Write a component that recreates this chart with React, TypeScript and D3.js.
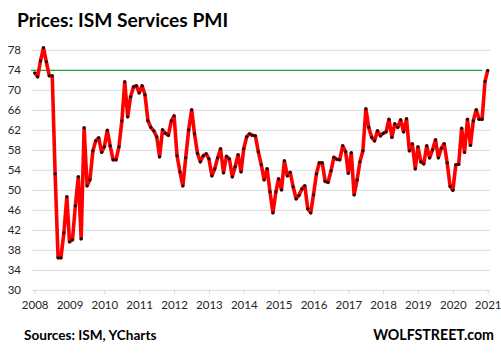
import * as d3 from 'd3';
import React, { useRef, useEffect } from 'react';

// monthly prices index, Mar 2008 .. Mar 2021
const startYear = 2008;
const startMonth = 2; // March (0-based)
const pricesIndex = [
  73.5, 72.7, 75.9, 78.5, 75.7, 72.9, 72.9, 53.3, 36.5, 36.5, 41.5, 48.7,
  39.7, 40.1, 46.9, 52.7, 40.3, 62.5, 50.9, 52.1, 57.9, 59.9, 60.5, 57.6,
  58.7, 62.0, 58.9, 56.1, 56.1, 58.7, 63.9, 71.7, 64.7, 68.7, 70.7, 70.9,
  69.5, 70.9, 69.1, 63.9, 62.6, 61.9, 60.7, 56.7, 62.1, 61.4, 61.0, 63.9,
  64.9, 56.9, 53.7, 50.9, 56.5, 62.1, 66.1, 61.3, 57.4, 55.7, 56.9, 57.3,
  56.3, 52.9, 54.3, 56.5, 58.3, 53.5, 56.8, 56.3, 52.7, 54.7, 57.1, 53.7,
  58.3, 60.7, 61.3, 61.0, 60.9, 57.7, 55.1, 52.1, 54.3, 49.7, 45.5, 49.7,
  52.3, 50.1, 55.9, 52.9, 53.6, 50.7, 48.3, 49.0, 50.3, 50.9, 46.3, 45.5,
  49.1, 53.3, 55.5, 55.5, 51.8, 51.6, 53.9, 56.6, 56.2, 56.1, 58.9, 57.7,
  53.4, 57.5, 49.1, 52.1, 55.7, 57.9, 66.3, 62.6, 60.6, 59.9, 61.9, 60.9,
  61.4, 61.7, 64.2, 60.6, 63.3, 62.6, 64.1, 61.7, 64.3, 57.9, 59.3, 54.3,
  58.7, 55.7, 55.3, 58.9, 56.5, 58.1, 60.1, 56.5, 58.4, 59.3, 55.5, 50.8,
  50.0, 55.1, 55.2, 62.4, 57.6, 64.2, 59.0, 63.9, 66.1, 64.2, 64.2, 71.8,
  74.0,
];
const yearLabels = d3.range(2008, 2022).map(String);
const yTicks = d3.range(30, 79, 4);
const refLevel = 74;

const W = 501;
const H = 354;
const FONT = 'Lato, "Open Sans", sans-serif';

function App() {
  const ref = useRef<SVGSVGElement>(null);

  useEffect(() => {
    const svg = d3.select(ref.current);
    svg.selectAll('*').remove();

    const data = pricesIndex.map((v, i) => ({ date: new Date(Date.UTC(startYear, startMonth + i, 1)), v }));

    const x = d3.scaleUtc()
      .domain([data[0].date, data[data.length - 1].date])
      .range([34.7, 487.7]);
    const y = d3.scaleLinear().domain([30, 78]).range([290.3, 50.3]);

    // gridlines
    svg.append('g')
      .selectAll('line')
      .data(yTicks.filter(t => t > 30))
      .enter()
      .append('line')
      .attr('x1', 32).attr('x2', 490)
      .attr('y1', d => y(d)).attr('y2', d => y(d))
      .attr('stroke', '#d9d9d9').attr('stroke-width', 1);

    // y labels
    svg.append('g')
      .selectAll('text')
      .data(yTicks)
      .enter()
      .append('text')
      .attr('x', 21).attr('y', d => y(d))
      .attr('dy', '0.36em')
      .attr('text-anchor', 'end')
      .attr('font-family', FONT).attr('font-size', 11.5)
      .attr('fill', '#262626')
      .text(d => d);

    // x axis
    const tickDates = yearLabels.map((_, i) => new Date(Date.UTC(startYear + i, startMonth, 1)));
    const xAxis = d3.axisBottom(x)
      .tickValues(tickDates)
      .tickSize(4)
      .tickPadding(7)
      .tickFormat((_, i) => yearLabels[i]);
    const gx = svg.append('g').attr('transform', `translate(0,${y(30)})`).call(xAxis);
    gx.select('.domain').attr('d', `M32,0H490`).attr('stroke', '#d9d9d9');
    gx.selectAll('.tick line').attr('stroke', '#d9d9d9');
    gx.selectAll('.tick text')
      .attr('font-family', FONT).attr('font-size', 11.5).attr('fill', '#262626');

    // reference line
    svg.append('line')
      .attr('x1', 31).attr('x2', 482)
      .attr('y1', y(refLevel)).attr('y2', y(refLevel))
      .attr('stroke', '#1aaa3c').attr('stroke-width', 1.2);

    const lineGen = d3.line<{ date: Date; v: number }>()
      .x(d => x(d.date))
      .y(d => y(d.v));

    svg.append('path')
      .datum(data)
      .attr('d', lineGen)
      .attr('fill', 'none')
      .attr('stroke', '#ff0000')
      .attr('stroke-width', 3.6)
      .attr('stroke-linejoin', 'round');

    svg.append('g')
      .selectAll('circle')
      .data(data)
      .enter()
      .append('circle')
      .attr('cx', d => x(d.date))
      .attr('cy', d => y(d.v))
      .attr('r', 1.6)
      .attr('fill', '#111');

    // title and footer
    svg.append('text')
      .attr('x', 17).attr('y', 27)
      .attr('font-family', FONT).attr('font-weight', 'bold').attr('font-size', 19.2)
      .attr('fill', '#000')
      .text('Prices: ISM Services PMI');

    svg.append('text')
      .attr('x', 24).attr('y', 340)
      .attr('font-family', FONT).attr('font-weight', 'bold').attr('font-size', 13.6)
      .attr('fill', '#000')
      .text('Sources: ISM, YCharts');

    svg.append('text')
      .attr('x', 494).attr('y', 340)
      .attr('text-anchor', 'end')
      .attr('font-family', FONT).attr('font-weight', 'bold').attr('font-size', 14.2)
      .attr('fill', '#000')
      .text('WOLFSTREET.com');
  }, []);

  return (
    <div style={{ position: 'absolute', left: 0, top: 0 }}>
      <svg ref={ref} width={W} height={H} style={{ display: 'block', background: '#fff' }} />
    </div>
  );
}

export default App;
